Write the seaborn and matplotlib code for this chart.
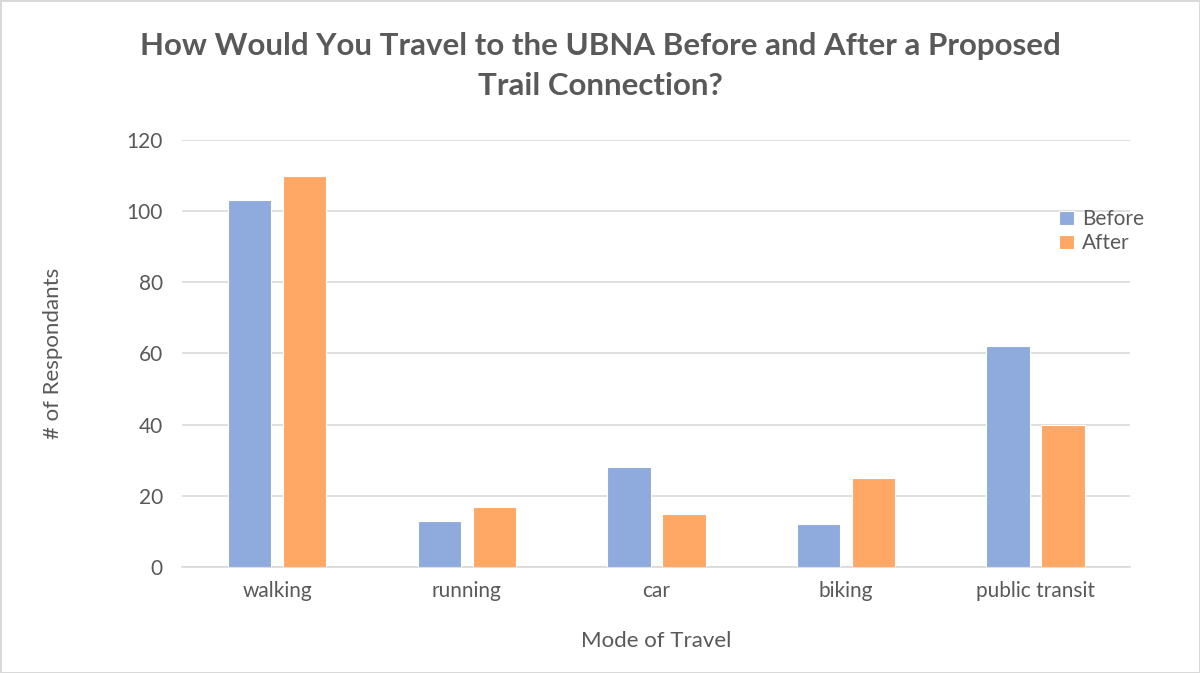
import matplotlib
matplotlib.use("Agg")
import matplotlib.pyplot as plt
import pandas as pd
import seaborn as sns

# Data
modes = ["walking", "running", "car", "biking", "public transit"]
before = [103, 13, 28, 12, 62]
after = [110, 17, 15, 25, 40]
series = ["Before", "After"]
colors = ["#8FAADC", "#FFA764"]

df = pd.DataFrame({
    "mode": modes * 2,
    "count": before + after,
    "when": [series[0]] * len(modes) + [series[1]] * len(modes),
})

sns.set_theme(style="white")
plt.rcParams["font.family"] = ["Lato", "DejaVu Sans"]
GRAY = "#595959"

fig = plt.figure(figsize=(12, 6.73), dpi=100)
ax = fig.add_axes([0.152, 0.1575, 0.79, 0.6345])

sns.barplot(data=df, x="mode", y="count", hue="when", order=modes,
            hue_order=series, palette=colors, saturation=1, width=0.58,
            gap=0.21, edgecolor="white", linewidth=0.8, ax=ax, zorder=3)

ax.set_ylim(0, 120)
ax.set_yticks(range(0, 121, 20))
ax.set_xlim(-0.5, len(modes) - 0.5)
ax.grid(axis="y", color="#D9D9D9", linewidth=1.2, zorder=0)
ax.set_axisbelow(True)
for s in ["top", "right", "left"]:
    ax.spines[s].set_visible(False)
ax.spines["bottom"].set_color("#D9D9D9")
ax.spines["bottom"].set_linewidth(1.2)
ax.tick_params(axis="both", length=0, labelsize=15, colors=GRAY, pad=10)
ax.tick_params(axis="y", pad=14)

ax.set_xlabel("Mode of Travel", fontsize=16, color=GRAY, labelpad=22)
ax.set_ylabel("# of Respondants", fontsize=16, color=GRAY, labelpad=46)

leg = ax.legend(loc="upper left", bbox_to_anchor=(0.905, 0.882), frameon=False,
                fontsize=15, handlelength=0.7, handleheight=0.7,
                handletextpad=0.4, labelspacing=0.2)
for t in leg.get_texts():
    t.set_color(GRAY)

fig.suptitle("How Would You Travel to the UBNA Before and After a Proposed\nTrail Connection?",
             x=0.5, y=0.953, fontsize=22.5, fontweight="bold", color=GRAY,
             linespacing=1.55)

fig.patch.set_edgecolor("#D9D9D9")
fig.patch.set_linewidth(2)

fig.savefig("out.png", dpi=100, edgecolor=fig.get_edgecolor())
